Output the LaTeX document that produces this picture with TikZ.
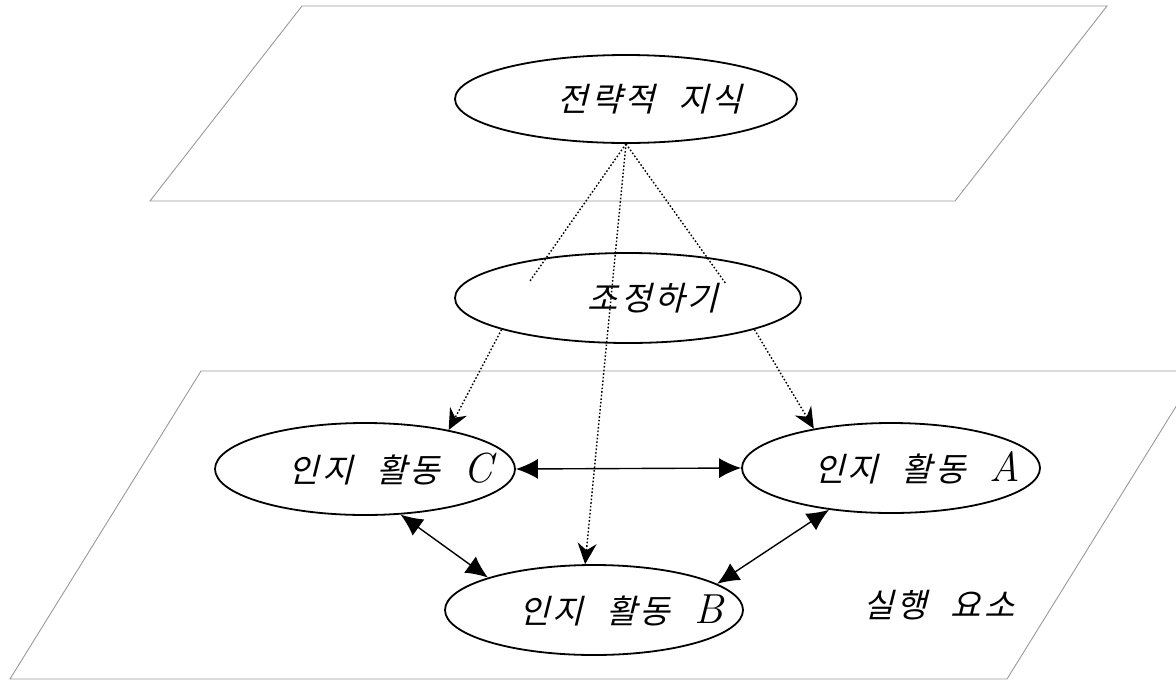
\documentclass[tikz,border=0pt]{standalone}
\usepackage{fontspec}
\newfontfamily\kr{Noto Sans CJK KR}[FakeSlant=0.25,LetterSpace=9,WordSpace=2.3]
\usetikzlibrary{arrows.meta,shapes.geometric}
\newcommand{\latin}[1]{{\rmfamily\itshape\fontsize{42}{42}\selectfont #1}}
\begin{document}
\begin{tikzpicture}[x=1pt,y=-1pt,
  plane/.style={draw=black!40, line width=0.9pt},
  oval/.style={ellipse, draw, line width=1.8pt, inner sep=0pt},
  lbl/.style={font=\kr\fontsize{33}{38}\selectfont, inner sep=0pt},
  dotline/.style={line width=1.4pt, dash pattern=on 1.6pt off 2pt},
  dotarrow/.style={dotline, -{Stealth[length=21pt,width=19pt,inset=7pt]}},
  duo/.style={line width=1.4pt, {Latex[length=22pt,width=20pt]}-{Latex[length=22pt,width=20pt]}}
]
\useasboundingbox (0,0) rectangle (1176,681);
% planes
\draw[plane] (302,6) -- (1107,6) -- (955,201) -- (150,201) -- cycle;
\draw[plane] (201,371) -- (1198,371) -- (1007,679) -- (10,679) -- cycle;
% ellipses
\node[oval, minimum width=342pt, minimum height=88pt] (T) at (626,99) {};
\node[oval, minimum width=346pt, minimum height=90pt] (M) at (628,298) {};
\node[oval, minimum width=300pt, minimum height=92pt] (C) at (365,469) {};
\node[oval, minimum width=298pt, minimum height=90pt] (A) at (891,468) {};
\node[oval, minimum width=298pt, minimum height=90pt] (B) at (594,610) {};
% labels
\node[lbl] (Tl) at ([xshift=24pt]T.center) {전략적 지식};
\node[lbl] (Ml) at ([xshift=25pt]M.center) {조정하기};
\node[lbl] (Cl) at ([xshift=26pt]C.center) {인지 활동 \latin{C}};
\node[lbl] (Al) at ([xshift=26pt]A.center) {인지 활동 \latin{A}};
\node[lbl] (Bl) at ([xshift=27pt]B.center) {인지 활동 \latin{B}};
\node[lbl] (E) at (939,605) {실행 요소};
% dotted connectors
\coordinate (dl) at (530,281);
\coordinate (dr) at (726,284);
\draw[dotline] (T.south) -- (dl);
\draw[dotline] (T.south) -- (dr);
\draw[dotarrow] (T.south) -- (B.101);
\draw[dotarrow] (M.194) -- (C.25);
\draw[dotarrow] (M.-14) -- (A.153);
% solid double arrows
\draw[duo] (C.east) -- (A.west);
\draw[duo] (C.-52) -- (B.163);
\draw[duo] (A.214) -- (B.12);
\end{tikzpicture}
\end{document}
